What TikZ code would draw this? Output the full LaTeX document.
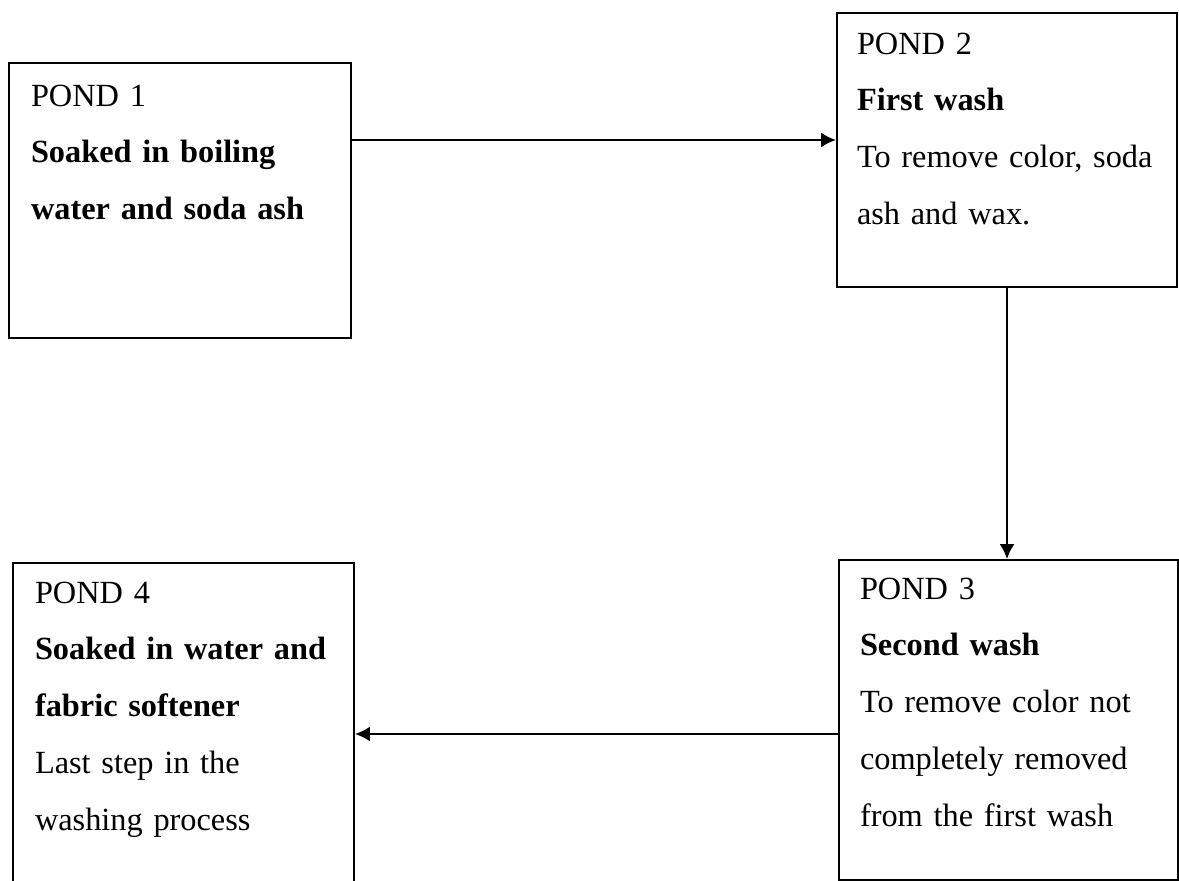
\documentclass[tikz,border=0pt]{standalone}
\usepackage{fontspec}
\setmainfont{Liberation Serif}
\usetikzlibrary{arrows.meta}

\begin{document}
\begin{tikzpicture}[line width=1.1pt,
    pond/.style={draw, rectangle, inner sep=0pt},
    pondtext/.style={anchor=base west, inner sep=0pt, align=left, text width=6.2cm,
        font=\fontsize{18.4pt}{32.3pt}\selectfont},
    flow/.style={-{Latex[length=8.5pt, width=8.5pt]}}]
    \useasboundingbox (0, 0) rectangle (23.58, -17.62);

    % the four ponds
    \node[pond, minimum width=6.84cm, minimum height=5.5cm] (P1) at (3.6, -4.01) {};
    \node[pond, minimum width=6.8cm, minimum height=5.48cm] (P2) at (20.14, -3.0) {};
    \node[pond, minimum width=6.78cm, minimum height=6.4cm] (P3) at (20.17, -14.4) {};
    \node[pond, minimum width=6.82cm, minimum height=6.9cm] (P4) at (3.67, -14.71) {}; % runs off the page

    % texts
    \node[pondtext] (T1) at ([shift={(0.44, -0.88)}]P1.north west)
        {POND 1\\ \textbf{Soaked in boiling}\\ \textbf{water and soda ash}};
    \node[pondtext] (T2) at ([shift={(0.40, -0.84)}]P2.north west)
        {POND 2\\ \textbf{First wash}\\ To remove color, soda\\ ash and wax.};
    \node[pondtext] (T3) at ([shift={(0.42, -0.80)}]P3.north west)
        {POND 3\\ \textbf{Second wash}\\ To remove color not\\ completely removed\\ from the first wash};
    \node[pondtext] (T4) at ([shift={(0.44, -0.82)}]P4.north west)
        {POND 4\\ \textbf{Soaked in water and}\\ \textbf{fabric softener}\\ Last step in the\\ washing process};

    % flow between ponds
    \draw[flow] ([yshift=0.2cm]P2.west -| P1.east) -- ([yshift=0.2cm]P2.west);
    \draw[flow] (P2.south) -- (P2.south |- P3.north);
    \draw[flow] ([yshift=-0.28cm]P3.west) -- ([yshift=-0.28cm]P3.west -| P4.east);
\end{tikzpicture}
\end{document}
